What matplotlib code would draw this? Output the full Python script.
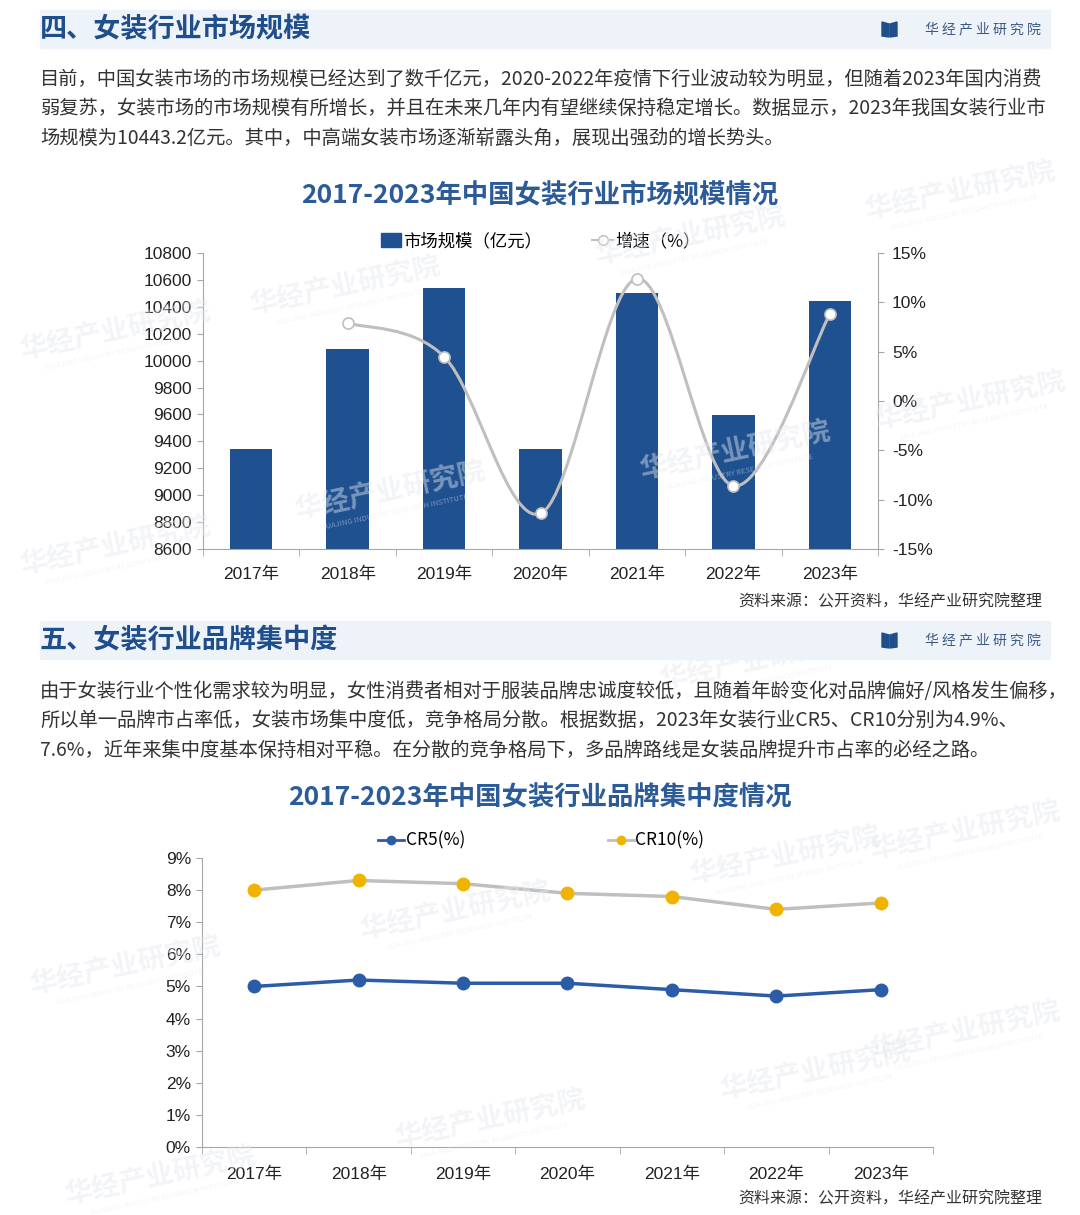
import numpy as np
import matplotlib
matplotlib.use('agg')
import matplotlib.pyplot as plt
from matplotlib.patches import Rectangle, Polygon, PathPatch, Patch
from matplotlib.path import Path
from matplotlib.lines import Line2D

# ---------------- data ----------------
years = ['2017年', '2018年', '2019年', '2020年', '2021年', '2022年', '2023年']
market_size = [9345, 10086, 10542, 9345, 10500, 9598, 10443.2]   # 亿元
growth = [7.9, 4.5, -11.4, 12.4, -8.6, 8.8]                        # %, 2018-2023
cr5 = [5.0, 5.2, 5.1, 5.1, 4.9, 4.7, 4.9]
cr10 = [8.0, 8.3, 8.2, 7.9, 7.8, 7.4, 7.6]

size_ticks = [8600, 8800, 9000, 9200, 9400, 9600, 9800, 10000, 10200, 10400, 10600, 10800]
growth_ticks = [-15, -10, -5, 0, 5, 10, 15]
cr_ticks = [0, 1, 2, 3, 4, 5, 6, 7, 8, 9]

text1 = ['目前，中国女装市场的市场规模已经达到了数千亿元，2020-2022年疫情下行业波动较为明显，但随着2023年国内消费',
         '弱复苏，女装市场的市场规模有所增长，并且在未来几年内有望继续保持稳定增长。数据显示，2023年我国女装行业市',
         '场规模为10443.2亿元。其中，中高端女装市场逐渐崭露头角，展现出强劲的增长势头。']
text2 = ['由于女装行业个性化需求较为明显，女性消费者相对于服装品牌忠诚度较低，且随着年龄变化对品牌偏好/风格发生偏移，',
         '所以单一品牌市占率低，女装市场集中度低，竞争格局分散。根据数据，2023年女装行业CR5、CR10分别为4.9%、',
         '7.6%，近年来集中度基本保持相对平稳。在分散的竞争格局下，多品牌路线是女装品牌提升市占率的必经之路。']

CJK = ['Noto Sans CJK SC', 'DejaVu Sans']
NUM = ['Liberation Sans', 'Noto Sans CJK SC']
plt.rcParams['font.family'] = CJK

W, H = 1080, 1215
fig = plt.figure(figsize=(W / 100, H / 100), dpi=100)
fig.patch.set_facecolor('white')


def fx(px):
    return px / W


def fy(py):
    return 1 - py / H


def rect(l, t, r, b):
    return [fx(l), fy(b), (r - l) / W, (b - t) / H]


# faint watermarks
marks = [(345, 285), (960, 190), (115, 330), (690, 235), (390, 490), (735, 450),
         (115, 545), (970, 400), (755, 660), (455, 910), (785, 855), (125, 965),
         (815, 1070), (490, 1118), (160, 1175), (965, 830), (965, 1030)]
for mx, my in marks:
    fig.text(fx(mx), fy(my), '华经产业研究院', fontsize=20, fontweight='bold', color='#e4e8ee',
             alpha=0.45, rotation=12, ha='center', va='center', zorder=0)
    fig.text(fx(mx + 4), fy(my + 22), 'HUAJING INDUSTRY RESEARCH INSTITUTE', fontsize=5.5,
             color='#e4e8ee', alpha=0.45, rotation=12, ha='center', va='center', zorder=0)


def header(top, title):
    fig.patches.append(Rectangle((fx(40), fy(top + 38)), 1010 / W, 38 / H,
                                 transform=fig.transFigure, color='#eef3fa', zorder=1))
    fig.text(fx(40), fy(top + 19), title, fontsize=19.5, fontweight='bold', color='#1f4e8c',
             va='center', ha='left', zorder=2)
    cy = top + 19
    fig.patches.append(Polygon([(fx(882), fy(cy - 7)), (fx(889), fy(cy - 5)), (fx(889), fy(cy + 8)),
                                (fx(882), fy(cy + 7))], closed=True, transform=fig.transFigure,
                               color='#1f4e8c', zorder=2))
    fig.patches.append(Polygon([(fx(890), fy(cy - 5)), (fx(897), fy(cy - 7)), (fx(897), fy(cy + 7)),
                                (fx(890), fy(cy + 8))], closed=True, transform=fig.transFigure,
                               color='#1f4e8c', zorder=2))
    fig.text(fx(1041), fy(cy), '华 经 产 业 研 究 院', fontsize=10, color='#3a5a85',
             va='center', ha='right', zorder=2)


def paragraph(top, lines):
    for i, ln in enumerate(lines):
        fig.text(fx(40), fy(top + i * 29.5), ln, fontsize=13.9, color='#333333',
                 va='center', ha='left', zorder=2)


header(10, '四、女装行业市场规模')
paragraph(79, text1)
fig.text(0.5, fy(196), '2017-2023年中国女装行业市场规模情况', fontsize=19, fontweight='bold',
         color='#2b5b98', ha='center', va='center')

header(621, '五、女装行业品牌集中度')
paragraph(691, text2)
fig.text(0.5, fy(798), '2017-2023年中国女装行业品牌集中度情况', fontsize=19, fontweight='bold',
         color='#2b5b98', ha='center', va='center')

for yy in (602, 1199):
    fig.text(fx(1042), fy(yy), '资料来源：公开资料，华经产业研究院整理', fontsize=11.5,
             color='#333333', ha='right', va='center')

axis_col = '#a6a6a6'
x = np.arange(len(years))

# ---------------- chart 1: bars + smoothed growth ----------------
ax = fig.add_axes(rect(203, 253, 878, 549))
ax.patch.set_alpha(0)
bars = ax.bar(x, market_size, width=0.44, color='#1f5190', zorder=2)
ax.set_xlim(-0.5, len(years) - 0.5)
ax.set_ylim(8600, 10800)
ax.set_yticks(size_ticks)
ax.set_yticklabels([str(v) for v in size_ticks], family=NUM, fontsize=12.5, color='#222222')
ax.set_xticks(x)
ax.set_xticklabels(years, family=NUM, fontsize=12.5, color='#222222')
ax.set_xticks(np.arange(-0.5, len(years)), minor=True)
ax.tick_params(axis='x', which='major', length=0, pad=13)
ax.tick_params(axis='x', which='minor', length=5, color=axis_col)
ax.tick_params(axis='y', length=4, color=axis_col, pad=4)
for s in ('top', 'right'):
    ax.spines[s].set_visible(False)
for s in ('left', 'bottom'):
    ax.spines[s].set_color(axis_col)

ax2 = ax.twinx()
ax2.set_ylim(-15, 15)
ax2.set_yticks(growth_ticks)
ax2.set_yticklabels(['%d%%' % v for v in growth_ticks], family=NUM, fontsize=12.5, color='#222222')
ax2.tick_params(axis='y', length=4, color=axis_col, pad=6)
for s in ('top', 'left', 'bottom'):
    ax2.spines[s].set_visible(False)
ax2.spines['right'].set_color(axis_col)

# smooth curve (Catmull-Rom segments as cubic Bezier)
gx = x[1:].astype(float)
gy = np.array(growth, dtype=float)
pts = np.column_stack([gx, gy])
verts = [tuple(pts[0])]
codes = [Path.MOVETO]
n = len(pts)
for i in range(n - 1):
    p0 = pts[i - 1] if i > 0 else pts[i]
    p1 = pts[i]
    p2 = pts[i + 1]
    p3 = pts[i + 2] if i + 2 < n else pts[i + 1]
    c1 = p1 + (p2 - p0) / 6
    c2 = p2 - (p3 - p1) / 6
    verts += [tuple(c1), tuple(c2), tuple(p2)]
    codes += [Path.CURVE4] * 3
ax2.add_patch(PathPatch(Path(verts, codes), facecolor='none', edgecolor='#bfbfbf', lw=2.2, zorder=3))
ax2.plot(gx, gy, linestyle='none', marker='o', ms=8, mfc='white', mec='#bfbfbf', mew=1.2, zorder=4)

h1 = Patch(color='#1f5190')
h2 = Line2D([], [], color='#bfbfbf', lw=1.5, marker='o', ms=7, mfc='white', mec='#bfbfbf')
ax.legend([h1, h2], ['市场规模（亿元）', '增速（%）'], loc='center', bbox_to_anchor=(0.5, 1.04),
          ncol=2, frameon=False, fontsize=12.5, handlelength=1.2, handletextpad=0.1,
          columnspacing=2.9, handleheight=0.9)

# ---------------- chart 2: CR5 / CR10 ----------------
bx = fig.add_axes(rect(202, 858, 933, 1147))
bx.patch.set_alpha(0)
bx.plot(x, cr5, color='#2a5ca8', lw=2.5, marker='o', ms=9, mfc='#2a5ca8', mec='#2a5ca8', zorder=3)
bx.plot(x, cr10, color='#bfbfbf', lw=2.5, marker='o', ms=9, mfc='#f0b400', mec='#f0b400', zorder=3)
bx.set_xlim(-0.5, len(years) - 0.5)
bx.set_ylim(0, 9)
bx.set_yticks(cr_ticks)
bx.set_yticklabels(['%d%%' % v for v in cr_ticks], family=NUM, fontsize=12.5, color='#222222')
bx.set_xticks(x)
bx.set_xticklabels(years, family=NUM, fontsize=12.5, color='#222222')
bx.set_xticks(np.arange(-0.5, len(years)), minor=True)
bx.tick_params(axis='x', which='major', length=0, pad=14)
bx.tick_params(axis='x', which='minor', length=5, color=axis_col)
bx.tick_params(axis='y', length=4, color=axis_col, pad=4)
for s in ('top', 'right'):
    bx.spines[s].set_visible(False)
for s in ('left', 'bottom'):
    bx.spines[s].set_color(axis_col)

l1 = Line2D([], [], color='#2a5ca8', lw=2, marker='o', ms=6, mfc='#2a5ca8', mec='#2a5ca8')
l2 = Line2D([], [], color='#bfbfbf', lw=2, marker='o', ms=6, mfc='#f0b400', mec='#f0b400')
bx.legend([l1, l2], ['CR5(%)', 'CR10(%)'], loc='center', bbox_to_anchor=(0.464, 1.06),
          ncol=2, frameon=False, fontsize=12.5, handlelength=1.5, handletextpad=0.1,
          columnspacing=8.2)

fig.savefig('out.png', dpi=100)
